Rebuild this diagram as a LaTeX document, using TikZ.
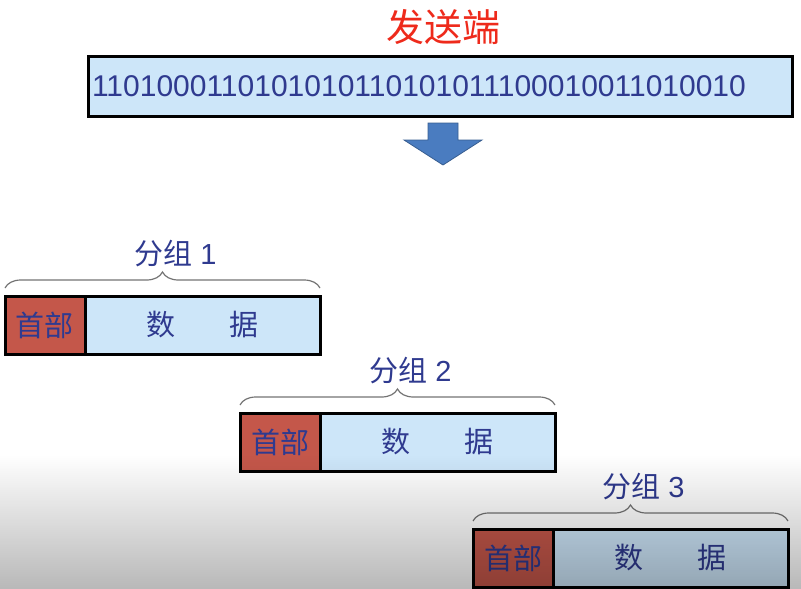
\documentclass[tikz,border=0pt]{standalone}
\usepackage{fontspec}
\setmainfont{Liberation Sans}
\newfontfamily\cjk{Noto Sans CJK SC}
\usetikzlibrary{positioning, calc, decorations.pathreplacing, fadings}
\definecolor{pktred}{HTML}{C4574A}
\definecolor{pktblue}{HTML}{CDE6F9}
\definecolor{pktnavy}{HTML}{2F3A8F}
\definecolor{pkttitle}{HTML}{EE2A1B}
\definecolor{pktarrow}{HTML}{4A7CC0}
\tikzset{
  cell/.style={rectangle, draw=black, line width=3pt, minimum height=58pt, inner sep=0pt,
               outer sep=0pt, text=pktnavy, font=\cjk\fontsize{29}{30}\selectfont},
  hdr/.style={cell, fill=pktred, minimum width=80pt},
  dat/.style={cell, fill=pktblue, minimum width=235pt},
  bits/.style={cell, fill=pktblue, minimum height=60pt, text width=696pt, inner xsep=4pt,
               align=left, font=\fontsize{30}{32}\selectfont},
  title/.style={text=pkttitle, font=\cjk\fontsize{38}{40}\selectfont},
  grp/.style={text=pktnavy, inner sep=2pt, font=\fontsize{29}{30}\selectfont},
  grpbrace/.style={draw=black!55, line width=1.2pt, decorate, decoration={brace, amplitude=16pt}},
  blockarrow/.style={fill=pktarrow, draw=pktarrow!75!black, line width=0.8pt},
}

\begin{document}
\begin{tikzpicture}[x=1pt, y=-1pt]
    \useasboundingbox (0,0) rectangle (801,589);
    % sender side
    \node[title] (sender) at (443,27) {发送端};
    \node[bits, anchor=north west] (stream) at (88,56) {1101000110101010110101011100010011010010};
    \coordinate[below=7pt of stream.south, xshift=3pt] (arr);
    \draw[blockarrow] ($(arr)+(-15,0)$) -- ++(0,17) -- ++(-24,0) -- ($(arr)+(0,42)$)
        -- ($(arr)+(39,17)$) -- ++(-24,0) -- ($(arr)+(15,0)$) -- cycle;

    % packets
    \foreach \n/\px/\py in {1/5/296, 2/240/413, 3/473/529}{
      \node[hdr, anchor=north west] (hd\n) at (\px,\py) {首部};
      \node[dat, right=0pt of hd\n] (dat\n) {数\hspace{55pt}据};
      \draw[grpbrace] ([yshift=8pt]hd\n.north west) -- ([yshift=8pt]dat\n.north east)
          coordinate[midway] (tip\n);
      \node[grp, above=19pt of tip\n, xshift=13pt] (lbl\n) {{\cjk 分组} \n};
    }

    % darker bottom edge
    \fill[black, path fading=north, fill opacity=0.28] (0,455) rectangle (801,589);
\end{tikzpicture}
\end{document}
